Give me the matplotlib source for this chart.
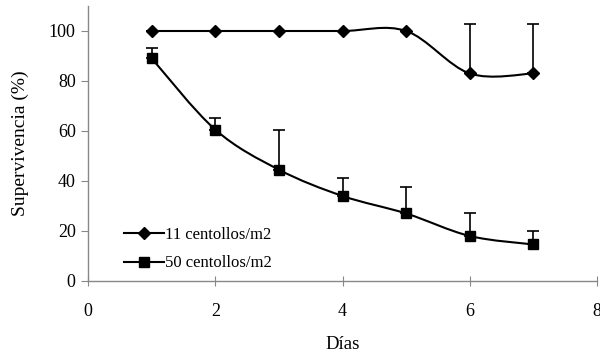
import matplotlib.pyplot as plt
from matplotlib.path import Path
from matplotlib.patches import PathPatch
import numpy as np

plt.rcParams['font.family'] = ['Liberation Serif', 'DejaVu Serif']

dias = [1, 2, 3, 4, 5, 6, 7]
s11 = [100, 100, 100, 100, 100, 83, 83]
s11_err = [0, 0, 0, 0, 0, 19.7, 19.7]
s50 = [89, 60.5, 44.5, 34, 27, 18, 14.6]
s50_err = [4, 4.5, 16, 7.2, 10.5, 9.2, 5.4]


def smooth_path(x, y, k=1 / 6):
    # Excel-like smoothed line: Catmull-Rom segments as cubic Beziers
    x = np.asarray(x, float)
    y = np.asarray(y, float)
    n = len(x)
    verts = [(x[0], y[0])]
    codes = [Path.MOVETO]
    for i in range(n - 1):
        p0 = i - 1 if i > 0 else i
        p3 = i + 2 if i + 2 < n else i + 1
        c1 = (x[i] + (x[i + 1] - x[p0]) * k, y[i] + (y[i + 1] - y[p0]) * k)
        c2 = (x[i + 1] - (x[p3] - x[i]) * k, y[i + 1] - (y[p3] - y[i]) * k)
        verts += [c1, c2, (x[i + 1], y[i + 1])]
        codes += [Path.CURVE4] * 3
    return Path(verts, codes)


fig = plt.figure(figsize=(6, 3.53), dpi=100)
ax = fig.add_axes([0.147, 0.204, 0.848, 0.779])

for yv, err in [(s11, s11_err), (s50, s50_err)]:
    ax.errorbar(dias, yv, yerr=[np.zeros(len(err)), err], fmt='none',
                ecolor='black', elinewidth=1.2, capsize=4, capthick=1.2, zorder=2)
    ax.add_patch(PathPatch(smooth_path(dias, yv), fill=False, ec='black', lw=1.5, zorder=3))

ax.plot(dias, s11, ls='none', marker='D', ms=6, color='black', zorder=4)
ax.plot(dias, s50, ls='none', marker='s', ms=7.5, color='black', zorder=4)

# legend handles
ax.plot([], [], '-', marker='D', ms=6, color='black', lw=1.5, label='11 centollos/m2')
ax.plot([], [], '-', marker='s', ms=7.5, color='black', lw=1.5, label='50 centollos/m2')
ax.legend(loc='lower left', bbox_to_anchor=(0.04, -0.02), frameon=False, fontsize=12,
          handlelength=2.4, handletextpad=0.1, labelspacing=0.75)

ax.set_xlim(0, 8)
ax.set_ylim(0, 110)
ax.set_xticks([0, 2, 4, 6, 8])
ax.set_yticks([0, 20, 40, 60, 80, 100])
for s in ['top', 'right']:
    ax.spines[s].set_visible(False)
for s in ['left', 'bottom']:
    ax.spines[s].set_color('#888888')
    ax.spines[s].set_linewidth(1)
ax.tick_params(axis='x', direction='inout', length=7, color='#888888', labelsize=13, pad=12)
ax.tick_params(axis='y', direction='out', length=5, color='#888888', labelsize=13, pad=4)

ax.set_xlabel('Días', fontsize=13.5, labelpad=12)
ax.set_ylabel('Supervivencia (%)', fontsize=14, labelpad=14)

fig.savefig('out.png', dpi=100)
